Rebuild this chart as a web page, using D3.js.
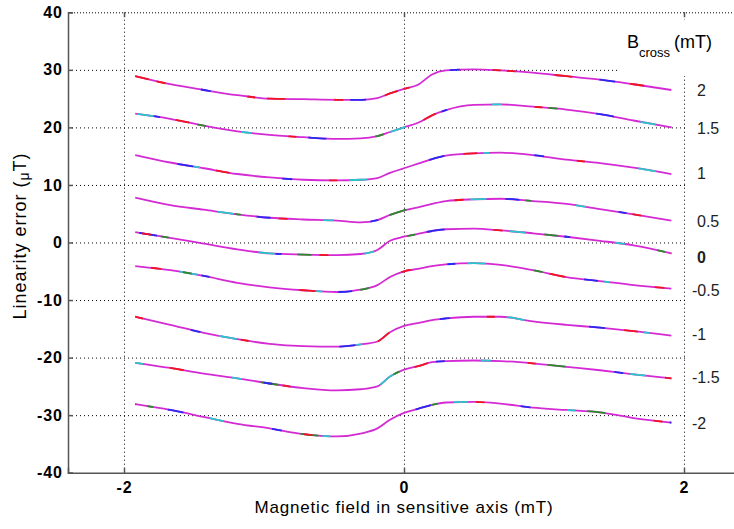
<!DOCTYPE html>
<html>
<head>
    <meta charset="utf-8" />
    <title>Linearity error</title>
    <script type="text/javascript" src="https://d3js.org/d3.v7.min.js"></script>
    <style>
        body { margin: 0; background: #fff; }
        svg { display: block; font-family: "Liberation Sans", Arial, sans-serif; }
        .grid line { stroke: #000; stroke-width: 1px; stroke-dasharray: 1 3; }
        .grid path { display: none; }
        .axis path, .axis line { stroke: #555; stroke-width: 1.5px; }
        .axis text { font-size: 16px; font-weight: bold; fill: #000; letter-spacing: 1px; }
        .curve { fill: none; stroke-width: 1.8px; }
    </style>
</head>
<body>
<script type="text/javascript">
// field values in sensitive axis (mT), shared by every curve
var field = [-1.92, -1.67, -1.43, -1.19, -0.96, -0.72, -0.48, -0.31, -0.19, -0.1, 0,
             0.1, 0.2, 0.3, 0.5, 0.69, 0.92, 1.16, 1.4, 1.64, 1.91];

// B cross values (mT), one curve each
var bcross = ["2", "1.5", "1", "0.5", "0", "-0.5", "-1", "-1.5", "-2"];

// linearity error (uT) for each B cross
var err2   = [28.9, 27.5, 26.5, 25.6, 25.0, 24.9, 24.8, 24.8, 25.1, 25.9, 26.7, 27.4, 29.2, 29.9, 30.1, 29.9, 29.5, 28.9, 28.3, 27.5, 26.5];
var err15  = [22.4, 21.5, 20.3, 19.3, 18.7, 18.3, 18.0, 18.1, 18.5, 19.2, 20.0, 20.8, 22.1, 23.0, 23.9, 24.0, 23.6, 23.1, 22.3, 21.2, 20.0];
var err1   = [15.2, 13.9, 12.9, 11.9, 11.3, 10.9, 10.8, 10.9, 11.2, 12.1, 12.9, 13.7, 14.5, 15.1, 15.5, 15.6, 15.2, 14.4, 13.8, 13.0, 11.9];
var err05  = [7.8, 6.5, 5.7, 4.9, 4.3, 4.0, 3.8, 3.5, 3.9, 4.8, 5.6, 6.1, 6.7, 7.2, 7.5, 7.6, 7.2, 6.7, 5.8, 4.9, 3.8];
var err0   = [1.8, 0.8, -0.2, -1.2, -1.9, -2.1, -2.2, -2.0, -1.3, 0.3, 1.0, 1.5, 2.0, 2.3, 2.4, 2.1, 1.6, 1.0, 0.3, -0.5, -1.9];
var errm05 = [-4.1, -4.8, -5.8, -7.0, -7.8, -8.3, -8.6, -8.2, -7.4, -6.0, -5.0, -4.6, -4.1, -3.8, -3.6, -3.9, -4.8, -6.0, -6.7, -7.4, -8.0];
var errm1  = [-12.9, -14.3, -15.7, -16.8, -17.6, -18.0, -18.1, -17.7, -17.2, -15.6, -14.5, -14.0, -13.5, -13.2, -12.9, -12.9, -13.7, -14.3, -14.8, -15.4, -16.2];
var errm15 = [-20.9, -21.8, -22.8, -23.6, -24.5, -25.3, -25.7, -25.5, -25.0, -23.3, -22.1, -21.5, -20.8, -20.6, -20.5, -20.6, -21.0, -21.6, -22.2, -22.9, -23.6];
var errm2  = [-28.1, -29.1, -30.3, -31.5, -32.3, -33.3, -33.7, -33.2, -32.3, -30.8, -29.6, -28.9, -28.2, -27.8, -27.7, -28.0, -28.7, -29.1, -29.5, -30.5, -31.3];

var series = [err2, err15, err1, err05, err0, errm05, errm1, errm15, errm2];

var yTicks = [-40, -30, -20, -10, 0, 10, 20, 30, 40];
var xTicks = [-2, 0, 2];

// repeated measurements peeking through under the magenta one
var overlays = [
    ["#f0141e", "#2828f0", "#f0141e", "#f0141e"],
    ["#f0141e", "#28c8c8", "#2828f0", "#2a8a2a"],
    ["#f0141e", "#2828f0", "#28c8c8"],
    ["#2828f0", "#28c8c8", "#2a8a2a", "#f0141e"],
    ["#2a8a2a", "#28c8c8", "#2828f0", "#f0141e"],
    ["#2828f0", "#f0141e", "#28c8c8", "#2a8a2a"],
    ["#f0141e", "#2828f0", "#28c8c8"],
    ["#f0141e", "#28c8c8", "#2a8a2a", "#2828f0"],
    ["#28c8c8", "#2828f0", "#2a8a2a", "#f0141e"]
];
var dashes = ["14 100 8 130", "10 140 16 90", "18 120 6 150", "9 170"];

var W = 734, H = 529;
var x = d3.scaleLinear().domain([-2.4, 2.4]).range([68, 740]);
var y = d3.scaleLinear().domain([-40, 40]).range([472.7, 12.3]);
var plain = function(d) { return String(d); };

var svg = d3.select("body").append("svg")
    .attr("width", W)
    .attr("height", H);

// grid
svg.append("g").attr("class", "grid")
    .attr("transform", "translate(0,472.7)")
    .call(d3.axisBottom(x).tickValues(xTicks).tickSize(-(472.7 - 12.3)).tickFormat(""));
svg.append("g").attr("class", "grid")
    .attr("transform", "translate(68,0)")
    .call(d3.axisLeft(y).tickValues(yTicks.filter(function(v) { return v > -40; }))
        .tickSize(-(W - 68)).tickFormat(""));
svg.selectAll(".grid line").filter(function(d) { return d === 40; })
    .style("stroke-dasharray", "1 2");

// curves
var line = d3.line()
    .x(function(d, i) { return x(field[i]); })
    .y(function(d) { return y(d); })
    .curve(d3.curveMonotoneX);

series.forEach(function(s, k) {
    svg.append("path").attr("class", "curve")
        .attr("d", line(s))
        .attr("stroke", "#d42ad4");
    overlays[k].forEach(function(c, j) {
        svg.append("path").attr("class", "curve")
            .attr("d", line(s))
            .attr("stroke", c)
            .attr("stroke-dasharray", dashes[j % dashes.length])
            .attr("stroke-dashoffset", -(k * 41 + j * 67));
    });
});

// white boxes behind the B cross labels
svg.append("rect").attr("x", 618).attr("y", 20).attr("width", W - 618).attr("height", 56).attr("fill", "#fff");
svg.append("rect").attr("x", x(2) + 2.5).attr("y", 76).attr("width", W).attr("height", y(-40) - 78).attr("fill", "#fff");

// axes
svg.append("g").attr("class", "axis")
    .attr("transform", "translate(68,0)")
    .call(d3.axisLeft(y).tickValues(yTicks).tickSize(-5).tickPadding(5).tickFormat(plain));
svg.append("g").attr("class", "axis")
    .attr("transform", "translate(0,472.7)")
    .call(d3.axisBottom(x).tickValues(xTicks).tickSize(-5).tickPadding(9).tickFormat(plain));
svg.append("g").attr("class", "axis")
    .attr("transform", "translate(0,12.3)")
    .call(d3.axisTop(x).tickValues(xTicks).tickSize(-5).tickFormat(""))
    .select(".domain").remove();

// axis titles
svg.append("text")
    .attr("x", x(0)).attr("y", 513)
    .attr("text-anchor", "middle")
    .style("font-size", "17px")
    .style("letter-spacing", "0.8px")
    .text("Magnetic field in sensitive axis (mT)");

var yl = svg.append("text")
    .attr("transform", "translate(26,236) rotate(-90)")
    .attr("text-anchor", "middle")
    .style("font-size", "18px")
    .style("letter-spacing", "1px");
yl.append("tspan").text("Linearity error (");
yl.append("tspan").attr("dy", 3).style("font-size", "14px").text("\u03bc");
yl.append("tspan").attr("dy", -3).text("T)");

// B cross legend
var bl = svg.append("text").attr("x", 627).attr("y", 48).style("font-size", "18px");
bl.append("tspan").text("B");
bl.append("tspan").attr("dy", 9).style("font-size", "13px").text("cross");
bl.append("tspan").attr("dy", -9).attr("dx", 4).text("(mT)");

var labelY = [90, 128, 173, 221, 257, 290, 334, 377, 423];
bcross.forEach(function(b, k) {
    svg.append("text")
        .attr("x", b.charAt(0) === "-" ? 692 : 697)
        .attr("y", labelY[k])
        .attr("dy", "0.35em")
        .style("font-size", "16px")
        .style("font-weight", b === "0" ? "bold" : "normal")
        .style("fill", "#222")
        .text(b);
});
</script>
</body>
</html>
